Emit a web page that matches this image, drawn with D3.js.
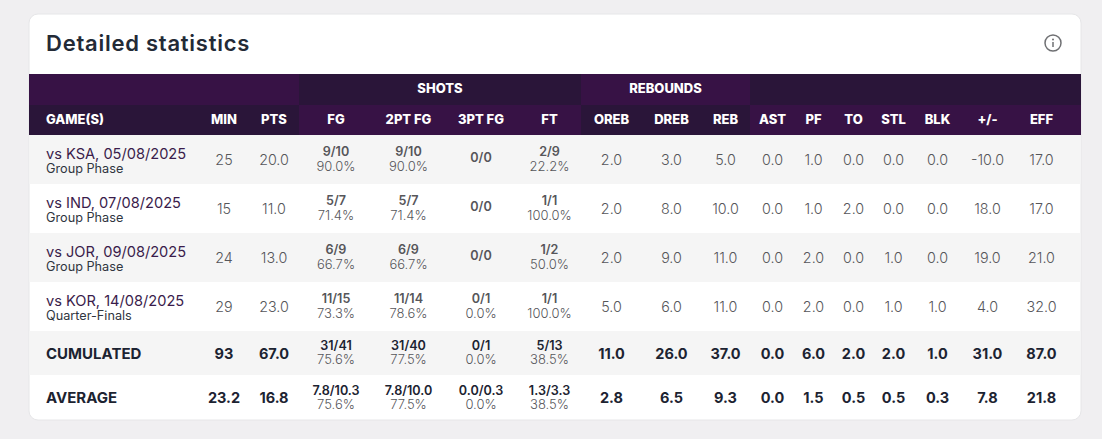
<!DOCTYPE html>
<html>
<head>
<meta charset="utf-8">
<title>Detailed statistics</title>
<script src="https://cdn.jsdelivr.net/npm/d3@7"></script>
<style>
  html, body { margin: 0; padding: 0; background: #f0eff1; overflow: hidden; }
  svg { display: block; font-family: Inter, "Liberation Sans", sans-serif; }
</style>
</head>
<body>
<div id="chart"></div>
<script>
// Table contents, one array per column. Last two entries are CUMULATED and AVERAGE
var games = ["vs KSA, 05/08/2025", "vs IND, 07/08/2025", "vs JOR, 09/08/2025", "vs KOR, 14/08/2025", "CUMULATED", "AVERAGE"];
var stages = ["Group Phase", "Group Phase", "Group Phase", "Quarter-Finals"];
var minutes = ["25", "15", "24", "29", "93", "23.2"];
var points = [20, 11, 13, 23, 67, 16.8];
var fg = ["9/10", "5/7", "6/9", "11/15", "31/41", "7.8/10.3"];
var fgPct = [90, 71.4, 66.7, 73.3, 75.6, 75.6];
var fg2 = ["9/10", "5/7", "6/9", "11/14", "31/40", "7.8/10.0"];
var fg2Pct = [90, 71.4, 66.7, 78.6, 77.5, 77.5];
var fg3 = ["0/0", "0/0", "0/0", "0/1", "0/1", "0.0/0.3"];
var fg3Pct = [null, null, null, 0, 0, 0];
var ft = ["2/9", "1/1", "1/2", "1/1", "5/13", "1.3/3.3"];
var ftPct = [22.2, 100, 50, 100, 38.5, 38.5];
var oreb = [2, 2, 2, 5, 11, 2.8];
var dreb = [3, 8, 9, 6, 26, 6.5];
var reb = [5, 10, 11, 11, 37, 9.3];
var ast = [0, 0, 0, 0, 0, 0];
var pf = [1, 1, 2, 2, 6, 1.5];
var to = [0, 2, 0, 0, 2, 0.5];
var stl = [0, 0, 1, 1, 2, 0.5];
var blk = [0, 0, 0, 1, 1, 0.3];
var plusMinus = [-10, 18, 19, 4, 31, 7.8];
var eff = [17, 17, 21, 32, 87, 21.8];

var columns = ["MIN", "PTS", "FG", "2PT FG", "3PT FG", "FT", "OREB", "DREB", "REB", "AST", "PF", "TO", "STL", "BLK", "+/-", "EFF"];
var groups = ["SHOTS", "REBOUNDS"];
var groupFirstColumn = ["GAME(S)", "FG", "OREB", "AST"];

// Layout
var width = 1102, height = 439;
var card = { x: 29, y: 14, w: 1052, h: 406 };
var colWidths = [50, 50, 74, 71, 74, 63, 61, 59, 49, 45, 37, 43, 37, 51, 49, 59];
var firstColEnd = 199;
var rowHeights = [49, 49, 49, 49, 44, 45];
var purple = "#371245", darkPurple = "#2a1539", rowGrey = "#f5f5f5";
var greyText = "#56565a", darkText = "#1c2331";

// plain hyphen for negatives, the site does not use the real minus sign
var f1 = d3.formatLocale({ decimal: ".", thousands: ",", grouping: [3], currency: ["", ""], minus: "-" }).format(".1f");
var pct = function(v) { return f1(v) + "%"; };

// column edges -> centre scale
var edges = Array.from(d3.cumsum([firstColEnd].concat(colWidths)));
var xCentre = d3.scaleOrdinal()
  .domain(columns)
  .range(columns.map(function(c, i) { return (edges[i] + edges[i + 1]) / 2; }));
var xEdge = d3.scaleOrdinal()
  .domain(["GAME(S)"].concat(columns))
  .range([card.x].concat(edges.slice(0, -1)));

var rowEdges = Array.from(d3.cumsum([135].concat(rowHeights)));
var yTop = d3.scaleOrdinal().domain(games).range(rowEdges);
var rowH = d3.scaleOrdinal().domain(games).range(rowHeights);

var svg = d3.select("#chart").append("svg")
  .attr("width", width)
  .attr("height", height);

// card
svg.append("rect")
  .attr("x", card.x).attr("y", card.y)
  .attr("width", card.w).attr("height", card.h)
  .attr("rx", 9)
  .attr("fill", "#fff")
  .attr("stroke", "#e6e6e8");

svg.append("text")
  .attr("x", 46).attr("y", 51)
  .attr("font-size", 22).attr("font-weight", 600)
  .attr("letter-spacing", 0.75)
  .attr("fill", "#232a36")
  .text("Detailed statistics");

// info icon
var info = svg.append("g").attr("transform", "translate(1053,43)");
info.append("circle").attr("r", 8).attr("fill", "none").attr("stroke", "#6f7073").attr("stroke-width", 1.5);
info.append("circle").attr("cy", -3.4).attr("r", 1).attr("fill", "#6f7073");
info.append("line").attr("y1", -1).attr("y2", 4).attr("stroke", "#6f7073").attr("stroke-width", 1.5);

// header bands, colours swap from one row to the next
var groupEnds = groupFirstColumn.slice(1).map(function(c) { return xEdge(c); }).concat([card.x + card.w]);
[{ y: 74, h: 31, flip: false }, { y: 105, h: 30, flip: true }].forEach(function(band) {
  svg.append("g").selectAll("rect")
    .data(groupFirstColumn)
    .join("rect")
    .attr("x", function(d) { return xEdge(d); })
    .attr("y", band.y)
    .attr("width", function(d, i) { return groupEnds[i] - xEdge(d); })
    .attr("height", band.h)
    .attr("fill", function(d, i) { return (i % 2 === 0) !== band.flip ? purple : darkPurple; });
});

// group titles
svg.append("g").selectAll("text")
  .data(groups)
  .join("text")
  .attr("x", function(d, i) { return (xEdge(groupFirstColumn[i + 1]) + groupEnds[i + 1]) / 2; })
  .attr("y", 92.5)
  .attr("text-anchor", "middle")
  .attr("font-size", 13).attr("font-weight", 800)
  .attr("fill", "#fff")
  .text(function(d) { return d; });

// column titles
svg.append("text")
  .attr("x", 46).attr("y", 124)
  .attr("font-size", 13).attr("font-weight", 800)
  .attr("fill", "#fff")
  .text("GAME(S)");
svg.append("g").selectAll("text")
  .data(columns)
  .join("text")
  .attr("x", function(d) { return xCentre(d); })
  .attr("y", 124)
  .attr("text-anchor", "middle")
  .attr("font-size", 13).attr("font-weight", 800)
  .attr("fill", "#fff")
  .text(function(d) { return d; });

// row backgrounds
svg.append("g").selectAll("rect")
  .data(games)
  .join("rect")
  .attr("x", card.x + 0.5)
  .attr("y", function(d) { return yTop(d); })
  .attr("width", card.w - 1)
  .attr("height", function(d) { return rowH(d); })
  .attr("fill", function(d, i) { return i % 2 === 0 ? rowGrey : "none"; });

var isTotal = function(i) { return i >= 4; };
var midY = function(i) { return yTop(games[i]) + rowH(games[i]) / 2; };

// first column
var firstCol = svg.append("g");
games.forEach(function(g, i) {
  if (isTotal(i)) {
    firstCol.append("text")
      .attr("x", 46).attr("y", midY(i) + 5.5)
      .attr("font-size", 15).attr("font-weight", 700)
      .attr("fill", darkText)
      .text(g);
  } else {
    firstCol.append("text")
      .attr("x", 46).attr("y", midY(i) - 1)
      .attr("font-size", 14.6)
      .attr("fill", "#3a1c4b")
      .text(g);
    firstCol.append("text")
      .attr("x", 46).attr("y", midY(i) + 13)
      .attr("font-size", 12.7)
      .attr("fill", "#30363f")
      .text(stages[i]);
  }
});

// plain number columns
var plainColumns = [
  ["PTS", points], ["OREB", oreb], ["DREB", dreb], ["REB", reb], ["AST", ast], ["PF", pf],
  ["TO", to], ["STL", stl], ["BLK", blk], ["+/-", plusMinus], ["EFF", eff]
];
var cells = [];
minutes.forEach(function(v, i) { cells.push({ col: "MIN", row: i, text: v }); });
plainColumns.forEach(function(c) {
  c[1].forEach(function(v, i) { cells.push({ col: c[0], row: i, text: f1(v) }); });
});
svg.append("g").selectAll("text")
  .data(cells)
  .join("text")
  .attr("x", function(d) { return xCentre(d.col); })
  .attr("y", function(d) { return midY(d.row) + 5.5; })
  .attr("text-anchor", "middle")
  .attr("font-size", function(d) { return isTotal(d.row) ? 14.5 : 14.3; })
  .attr("font-weight", function(d) { return isTotal(d.row) ? 700 : 300; })
  .attr("fill", function(d) { return isTotal(d.row) ? darkText : greyText; })
  .text(function(d) { return d.text; });

// shooting columns: made/attempted with percentage below
var shotColumns = [["FG", fg, fgPct], ["2PT FG", fg2, fg2Pct], ["3PT FG", fg3, fg3Pct], ["FT", ft, ftPct]];
var shotCells = [];
shotColumns.forEach(function(c) {
  c[1].forEach(function(v, i) { shotCells.push({ col: c[0], row: i, text: v, pct: c[2][i] }); });
});
var shots = svg.append("g");
shots.selectAll("text.made")
  .data(shotCells)
  .join("text")
  .attr("class", "made")
  .attr("x", function(d) { return xCentre(d.col); })
  .attr("y", function(d) {
    if (d.pct === null) return midY(d.row) + 2.5;
    return midY(d.row) + (isTotal(d.row) ? -2.8 : -3.5);
  })
  .attr("text-anchor", "middle")
  .attr("font-size", 12.6).attr("font-weight", 600)
  .attr("fill", function(d) { return isTotal(d.row) ? darkText : greyText; })
  .text(function(d) { return d.text; });
shots.selectAll("text.pct")
  .data(shotCells.filter(function(d) { return d.pct !== null; }))
  .join("text")
  .attr("class", "pct")
  .attr("x", function(d) { return xCentre(d.col); })
  .attr("y", function(d) { return midY(d.row) + (isTotal(d.row) ? 11 : 11.5); })
  .attr("text-anchor", "middle")
  .attr("font-size", 13).attr("font-weight", 300)
  .attr("fill", greyText)
  .text(function(d) { return pct(d.pct); });
</script>
</body>
</html>
